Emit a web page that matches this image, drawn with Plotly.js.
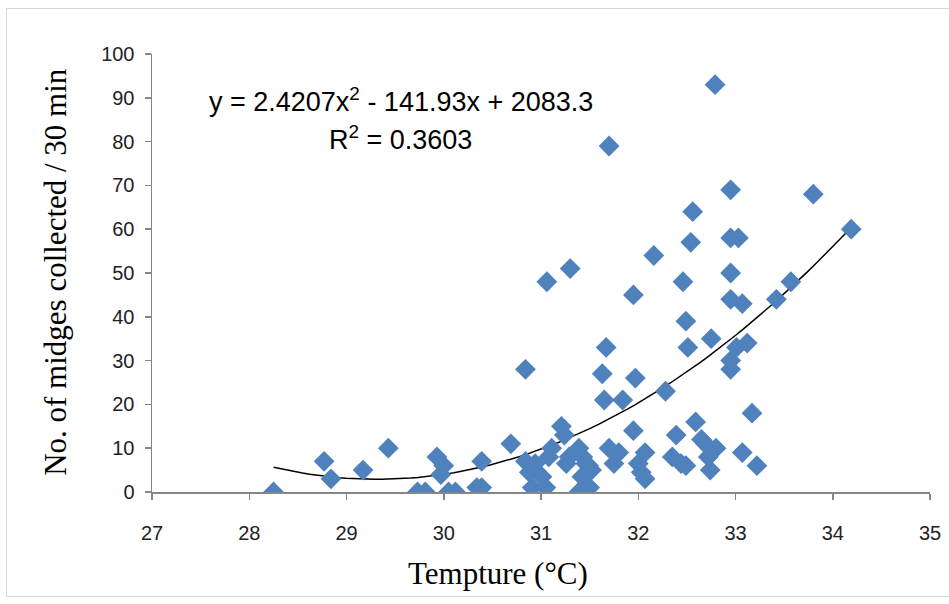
<!DOCTYPE html>
<html>
<head>
<meta charset="utf-8">
<script src="https://cdn.plot.ly/plotly-3.0.1.min.js"></script>
<style>
  html, body { margin: 0; padding: 0; background: #ffffff; }
  #wrap { position: relative; width: 949px; height: 604px; }
  #chart { position: absolute; left: 0; top: 0; width: 949px; height: 604px; }
  #frame { position: absolute; left: 6px; top: 8px; width: 948px; height: 589px; border: 1px solid #d9d9d9; pointer-events: none; box-sizing: border-box; }
</style>
</head>
<body>
<div id="wrap">
  <div id="chart"></div>
  <div id="frame"></div>
</div>
<script>
// Temperature (°C) of each collection
const temperature = [
  28.25, 28.77, 28.84, 29.17, 29.43, 29.73, 29.81, 29.93, 30.00, 29.97,
  30.05, 30.12, 30.34, 30.39, 30.39, 30.69, 30.84, 30.84, 30.88, 30.94,
  31.01, 30.91, 31.05, 31.08, 31.06, 31.21, 31.24, 31.30, 31.39, 31.29,
  31.26, 31.46, 31.42, 31.39, 31.50, 31.52, 31.43, 31.49, 31.63, 31.67,
  31.65, 31.70, 31.70, 31.80, 31.75, 31.84, 31.95, 31.97, 31.95, 32.07,
  32.00, 32.03, 32.07, 32.16, 32.28, 32.39, 32.35, 32.44, 32.49, 32.46,
  32.49, 32.51, 32.54, 32.56, 32.59, 32.65, 32.69, 32.75, 32.80, 32.72,
  32.74, 32.79, 32.95, 32.95, 33.03, 32.95, 32.95, 33.07, 33.01, 33.12,
  32.95, 32.95, 33.07, 33.17, 33.22, 33.42, 33.57, 33.80, 34.19, 31.11
];
// Number of midges collected / 30 min
const midges = [
  0, 7, 3, 5, 10, 0, 0, 8, 6, 4,
  0, 0, 1, 1, 7, 11, 28, 7, 4.5, 6.5,
  3.5, 1, 1, 8, 48, 15, 13, 51, 10, 8,
  6.5, 6.5, 3.5, 0, 1, 5, 8, 6, 27, 33,
  21, 79, 10, 9, 6.5, 21, 45, 26, 14, 9,
  6.5, 4.5, 3, 54, 23, 13, 8, 6.5, 6, 48,
  39, 33, 57, 64, 16, 12, 11, 35, 10, 8,
  5, 93, 69, 58, 58, 50, 44, 43, 33, 34,
  30, 28, 9, 18, 6, 44, 48, 68, 60, 10
];
// Polynomial (order 2) trendline shown on the chart
const trendCoefA = 2.4207;
const trendCoefB = -141.93;
const trendCoefC = 2083.3;
const equationText = "y = 2.4207x<sup>2</sup> - 141.93x + 2083.3";
const r2Text = "R<sup>2</sup> = 0.3603";
const xTickValues = [27, 28, 29, 30, 31, 32, 33, 34, 35];
const yTickValues = [0, 10, 20, 30, 40, 50, 60, 70, 80, 90, 100];

const xMin = Math.min(...temperature), xMax = Math.max(...temperature);
const trendX = [], trendY = [];
for (let i = 0; i <= 80; i++) {
  const x = xMin + (xMax - xMin) * i / 80;
  trendX.push(x);
  trendY.push(trendCoefA * x * x + trendCoefB * x + trendCoefC);
}

const scatter = {
  x: temperature, y: midges, type: 'scatter', mode: 'markers',
  marker: { symbol: 'diamond', size: 16, color: '#4f81bd', line: { width: 0 } },
  hoverinfo: 'x+y', showlegend: false
};
const trend = {
  x: trendX, y: trendY, type: 'scatter', mode: 'lines',
  line: { color: '#000000', width: 1.5 }, hoverinfo: 'skip', showlegend: false
};

const axisCommon = {
  showgrid: false, zeroline: false, showline: true, linecolor: '#868686', linewidth: 1.5,
  ticks: 'outside', ticklen: 6, tickwidth: 1.5, tickcolor: '#868686',
  tickfont: { family: 'Liberation Sans, Arial, sans-serif', size: 20, color: '#222222' }
};

const layout = {
  width: 949, height: 604,
  margin: { l: 152, r: 19, t: 54, b: 112 },
  paper_bgcolor: '#ffffff', plot_bgcolor: '#ffffff',
  xaxis: Object.assign({}, axisCommon, {
    range: [27, 35], tickvals: xTickValues, ticktext: xTickValues.map(String),
    ticklabelstandoff: 16
  }),
  yaxis: Object.assign({}, axisCommon, {
    range: [0, 100], tickvals: yTickValues, ticktext: yTickValues.map(String),
    ticklabelstandoff: 6
  }),
  annotations: [
    { xref: 'paper', yref: 'paper', x: 0.445, y: -0.187, text: 'Tempture (°C)', showarrow: false,
      font: { family: 'Liberation Serif, Times New Roman, serif', size: 31, color: '#000000' },
      xanchor: 'center', yanchor: 'middle' },
    { xref: 'paper', yref: 'paper', x: -0.125, y: 0.502, text: 'No. of midges collected / 30 min', showarrow: false,
      textangle: -90,
      font: { family: 'Liberation Serif, Times New Roman, serif', size: 31, color: '#000000' },
      xanchor: 'center', yanchor: 'middle' },
    { xref: 'paper', yref: 'paper', x: 0.32, y: 0.895, text: equationText, showarrow: false,
      font: { family: 'Liberation Sans, Arial, sans-serif', size: 27, color: '#000000' },
      xanchor: 'center', yanchor: 'middle' },
    { xref: 'paper', yref: 'paper', x: 0.32, y: 0.808, text: r2Text, showarrow: false,
      font: { family: 'Liberation Sans, Arial, sans-serif', size: 27, color: '#000000' },
      xanchor: 'center', yanchor: 'middle' }
  ]
};

Plotly.newPlot('chart', [trend, scatter], layout, { displayModeBar: false, staticPlot: true });
</script>
</body>
</html>
